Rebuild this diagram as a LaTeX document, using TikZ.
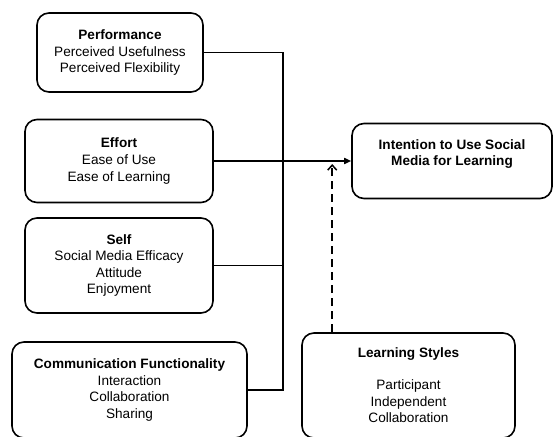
\documentclass[tikz,border=0pt]{standalone}
\usepackage{fontspec}
\setmainfont{Liberation Sans}
\usetikzlibrary{arrows.meta}

\begin{document}
\begin{tikzpicture}[x=1pt, y=1pt,
    factor/.style={draw, line width=1.6pt, rounded corners=12pt, align=center,
      inner sep=2pt, font=\fontsize{13.6}{16.6}\selectfont},
    link/.style={line width=1.6pt}]
    \useasboundingbox (0,0) rectangle (553,-436);
    % Predictors
    \node (perf) at (120,-52.5) [factor, minimum width=166pt, minimum height=79pt]
      {\textbf{Performance}\\Perceived Usefulness\\Perceived Flexibility};
    \node (effort) at (119,-161) [factor, minimum width=188pt, minimum height=83pt]
      {\textbf{Effort}\\Ease of Use\\Ease of Learning};
    \node (self) at (119,-265.5) [factor, minimum width=188pt, minimum height=95pt]
      {\textbf{Self}\\Social Media Efficacy\\Attitude\\Enjoyment};
    \node (comm) at (129.5,-390) [factor, minimum width=235pt, minimum height=96pt]
      {\textbf{Communication Functionality}\\Interaction\\Collaboration\\Sharing};
    % Outcome and moderator
    \node (intent) at (452,-161) [factor, minimum width=200pt, minimum height=75pt]
      {\textbf{Intention to Use Social}\\\textbf{Media for Learning}\\\mbox{}};
    \node (learn) at (408.5,-385.5) [factor, minimum width=213pt, minimum height=105pt]
      {\textbf{Learning Styles}\\[15pt]Participant\\Independent\\Collaboration};
    % Connectors
    \coordinate (bus) at (283,0);
    \draw[link] (perf.east) -- (perf.east -| bus) -- (comm.east -| bus) -- (comm.east);
    \draw[link] (self.east) -- (self.east -| bus);
    \draw[link, -{Triangle[length=7pt, width=6pt]}] (effort.east) -- (effort.east -| intent.west);
    \coordinate (mod) at ([xshift=31pt]learn.north west);
    \coordinate (tip) at ([yshift=-3pt]mod |- intent.west);
    \draw[line width=1.5pt, dash pattern=on 8pt off 5pt, -{Straight Barb[length=5pt, width=9pt]}]
      (mod) -- (tip);
\end{tikzpicture}
\end{document}
